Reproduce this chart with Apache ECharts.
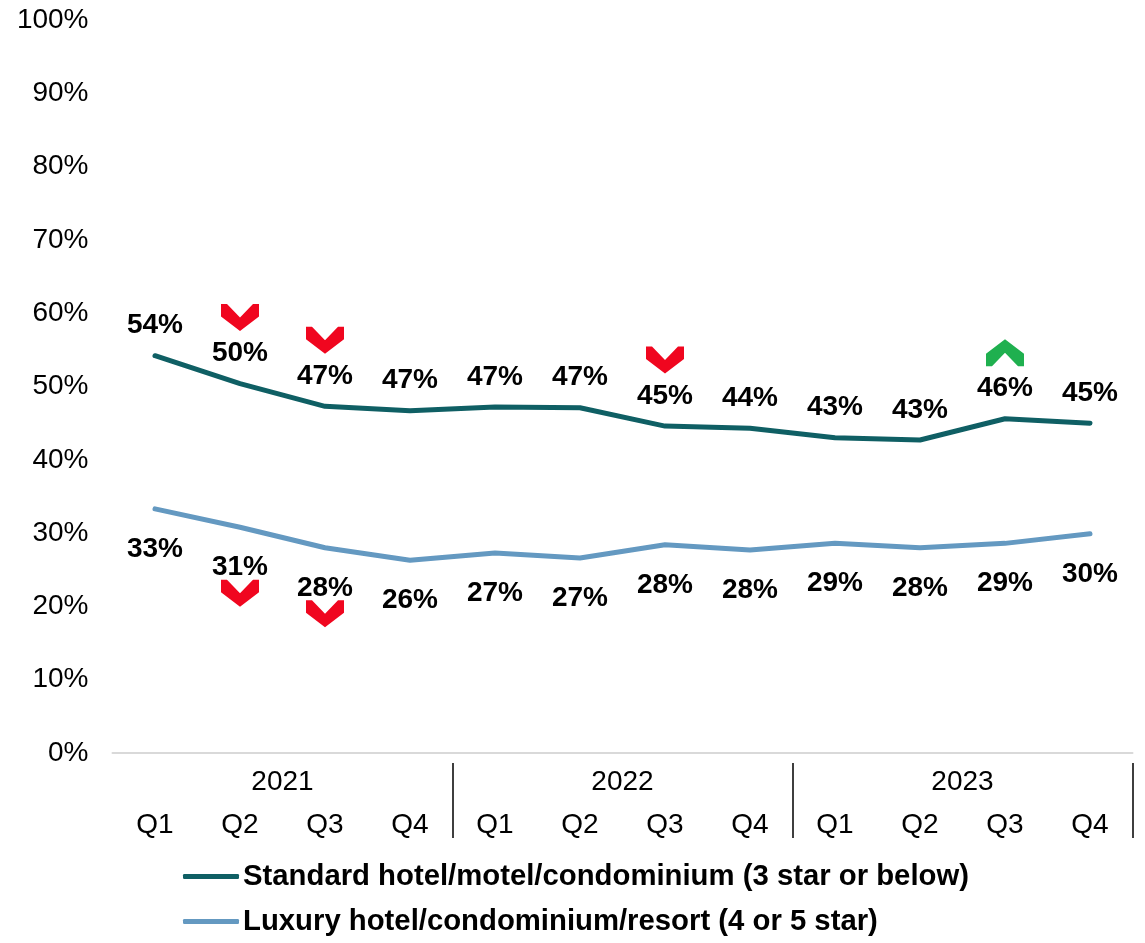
<!DOCTYPE html>
<html>
<head>
<meta charset="utf-8">
<script src="https://cdn.jsdelivr.net/npm/echarts@6/dist/echarts.min.js"></script>
<style>
  html, body { margin: 0; padding: 0; background: #fff; }
  #chart { width: 1145px; height: 943px; }
</style>
</head>
<body>
<div id="chart"></div>
<script>
// Quarter and year categories
const quarters = ['Q1', 'Q2', 'Q3', 'Q4', 'Q1', 'Q2', 'Q3', 'Q4', 'Q1', 'Q2', 'Q3', 'Q4'];
const years = ['2021', '2022', '2023'];

// Share of stays by accommodation type (%)
const standardShare = [54.2, 50.4, 47.3, 46.7, 47.2, 47.1, 44.6, 44.3, 43.0, 42.7, 45.6, 45.0];
const luxuryShare   = [33.3, 30.8, 28.0, 26.3, 27.3, 26.6, 28.4, 27.7, 28.6, 28.0, 28.6, 29.9];

// Significant change vs. previous period: 'up', 'down' or null
const standardChange = [null, 'down', 'down', null, null, null, 'down', null, null, null, 'up', null];
const luxuryChange   = [null, 'down', 'down', null, null, null, null, null, null, null, null, null];

const seriesNames = [
  'Standard hotel/motel/condominium (3 star or below)',
  'Luxury hotel/condominium/resort (4 or 5 star)'
];

const FONT = '"Liberation Sans", Arial, Helvetica, sans-serif';
const DOWN_PATH = 'path://M0,0 L6,0 L19,13 L32,0 L38,0 L38,12 L19,26 L0,12 Z';
const UP_PATH = 'path://M0,26 L6,26 L19,13 L32,26 L38,26 L38,14 L19,0 L0,14 Z';

// Chevron markers placed beyond each value label
function changeMarkers(values, changes, dir) {
  const out = [];
  changes.forEach((c, i) => {
    if (!c) return;
    out.push({
      coord: [i, values[i]],
      symbol: c === 'up' ? UP_PATH : DOWN_PATH,
      symbolSize: [38, 27],
      symbolOffset: [0, dir * 66],
      itemStyle: { color: c === 'up' ? '#1fb04f' : '#f0061f' }
    });
  });
  return out;
}

function lineSeries(name, values, color, changes, above) {
  return {
    name: name,
    type: 'line',
    data: values,
    symbol: 'circle',
    symbolSize: 0.1,
    showSymbol: true,
    smooth: false,
    lineStyle: { color: color, width: 5, cap: 'round', join: 'round' },
    itemStyle: { color: color },
    label: {
      show: true,
      position: above ? 'top' : 'bottom',
      distance: above ? 16 : 26,
      formatter: p => Math.round(p.value) + '%',
      fontFamily: FONT,
      fontWeight: 'bold',
      fontSize: 28,
      lineHeight: 28,
      color: '#000'
    },
    markPoint: {
      silent: true,
      label: { show: false },
      data: changeMarkers(values, changes, above ? -1 : 1)
    }
  };
}

const chart = echarts.init(document.getElementById('chart'), null, { renderer: 'canvas' });

chart.setOption({
  animation: false,
  backgroundColor: '#fff',
  grid: { left: 112.5, right: 12.5, top: 20, bottom: 190, containLabel: false },
  legend: {
    orient: 'vertical',
    left: 183,
    top: 860,
    padding: 0,
    icon: 'roundRect',
    itemWidth: 56,
    itemHeight: 5,
    itemGap: 12,
    data: seriesNames,
    textStyle: { fontFamily: FONT, fontWeight: 'bold', fontSize: 29.3, lineHeight: 33, color: '#000', padding: [0, 0, 0, -1] }
  },
  xAxis: [
    {
      type: 'category',
      data: quarters,
      boundaryGap: true,
      axisLine: { show: true, lineStyle: { color: '#d9d9d9', width: 2 } },
      axisTick: { show: false },
      axisLabel: { interval: 0, margin: 58, fontFamily: FONT, fontSize: 28, color: '#000' }
    },
    {
      type: 'category',
      data: years,
      position: 'bottom',
      offset: 10,
      boundaryGap: true,
      axisLine: { show: false },
      axisTick: {
        show: true,
        length: 75,
        interval: (index) => index !== 0,
        lineStyle: { color: '#000', width: 1.5 }
      },
      axisLabel: { interval: 0, margin: 5, fontFamily: FONT, fontSize: 28, color: '#000' }
    }
  ],
  yAxis: {
    type: 'value',
    min: 0,
    max: 100,
    interval: 10,
    axisLine: { show: false },
    axisTick: { show: false },
    splitLine: { show: false },
    axisLabel: { formatter: '{value}%', margin: 24, fontFamily: FONT, fontSize: 28, color: '#000' }
  },
  series: [
    lineSeries(seriesNames[0], standardShare, '#0f5f64', standardChange, true),
    lineSeries(seriesNames[1], luxuryShare, '#6499c1', luxuryChange, false)
  ]
});
</script>
</body>
</html>
